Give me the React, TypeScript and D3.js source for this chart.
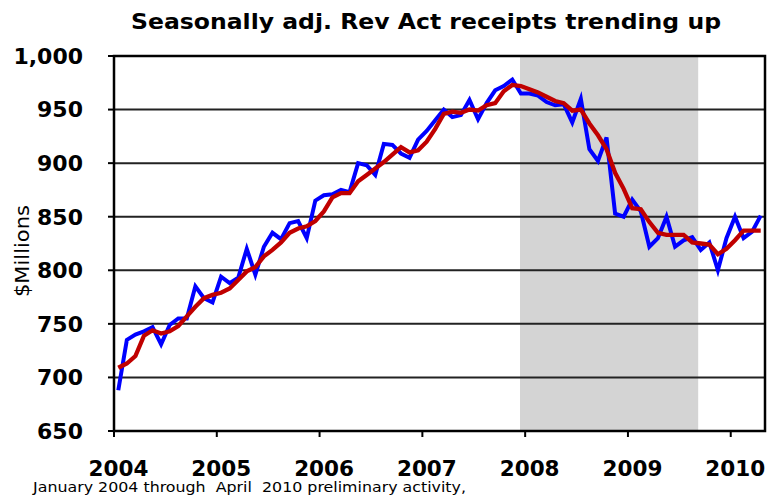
import * as d3 from 'd3';

// monthly, Jan 2004 .. Apr 2010
const startYear = 2004;
const receipts = [
    688, 735, 740, 743, 747, 731, 749, 755, 755, 785, 774, 770,
    794, 788, 793, 820, 796, 822, 835, 829, 844, 846, 830, 865,
    870, 871, 875, 873, 900, 898, 889, 918, 917, 909, 905, 922,
    930, 940, 950, 943, 945, 959, 941, 956, 968, 972, 978, 965,
    965, 963, 957, 954, 955, 938, 960, 913, 902, 924, 853, 850,
    866, 855, 822, 830, 850, 822, 828, 831, 819, 826, 800, 830,
    850, 830, 836, 851,
];
const trend = [
    709, 713, 720, 739, 744, 741, 743, 748, 757, 766, 774, 777,
    779, 783, 791, 799, 803, 813, 819, 826, 835, 839, 841, 846,
    855, 868, 872, 872, 883, 889, 895, 901, 908, 915, 910, 912,
    920, 932, 946, 948, 947, 950, 949, 954, 956, 967, 973, 972,
    969, 966, 962, 958, 956, 949, 950, 937, 926, 913, 891, 876,
    858, 857, 845, 835, 833, 833, 833, 826, 825, 824, 815, 820,
    828, 837, 837, 837,
];
const yTicks = [650, 700, 750, 800, 850, 900, 950, 1000];
const yearLabels = ['2004', '2005', '2006', '2007', '2008', '2009', '2010'];
// shaded band, in months from Jan 2004
const recession: [number, number] = [47.4, 68.2];

const title = 'Seasonally adj. Rev Act receipts trending up';
const yTitle = '$Millions';
const note = 'January 2004 through  April  2010 preliminary activity,';

const width = 781;
const height = 495;
const margin = { left: 114, right: 16, top: 56, bottom: 64 };

export default function App() {
    const x = d3
        .scaleLinear()
        .domain([0, receipts.length])
        .range([margin.left, width - margin.right]);
    const y = d3
        .scaleLinear()
        .domain([650, 1000])
        .range([height - margin.bottom, margin.top]);

    const line = d3
        .line<number>()
        .x((_, i) => x(i + 0.5))
        .y((d) => y(d));

    const x0 = x.range()[0];
    const x1 = x.range()[1];
    const yBottom = y.range()[0];
    const yTop = y.range()[1];
    const font = '"DejaVu Sans", Verdana, sans-serif';

    return (
        <svg
            width={width}
            height={height}
            style={{ position: 'absolute', left: 0, top: 0, background: '#fff' }}
        >
            <text
                x={426}
                y={28.5}
                textAnchor="middle"
                fontFamily={font}
                fontWeight="bold"
                fontSize={21}
                textLength={590}
                lengthAdjust="spacingAndGlyphs"
            >
                {title}
            </text>

            <rect
                x={x(recession[0])}
                y={yTop}
                width={x(recession[1]) - x(recession[0])}
                height={yBottom - yTop}
                fill="#d4d4d4"
            />

            {yTicks.slice(1, -1).map((t) => (
                <line key={t} x1={x0} x2={x1} y1={y(t)} y2={y(t)} stroke="#222" strokeWidth={2} />
            ))}

            <rect
                x={x0}
                y={yTop}
                width={x1 - x0}
                height={yBottom - yTop}
                fill="none"
                stroke="#000"
                strokeWidth={2.5}
            />

            {yTicks.map((t) => (
                <g key={t}>
                    <line x1={x0 - 6} x2={x0} y1={y(t)} y2={y(t)} stroke="#000" strokeWidth={2} />
                    <text
                        x={83}
                        y={y(t)}
                        dy="0.36em"
                        textAnchor="end"
                        fontFamily={font}
                        fontWeight="bold"
                        fontSize={22}
                    >
                        {d3.format(',')(t)}
                    </text>
                </g>
            ))}

            {yearLabels.map((label, k) => (
                <g key={label}>
                    <line
                        x1={x(k * 12)}
                        x2={x(k * 12)}
                        y1={yBottom}
                        y2={yBottom + 6}
                        stroke="#000"
                        strokeWidth={2}
                    />
                    <text
                        x={x(k * 12) + 4.5}
                        y={476}
                        textAnchor="middle"
                        fontFamily={font}
                        fontWeight="bold"
                        fontSize={21.5}
                    >
                        {label}
                    </text>
                </g>
            ))}

            <text
                transform={`translate(29,251) rotate(-90)`}
                textAnchor="middle"
                fontFamily={font}
                fontSize={19}
                textLength={92}
                lengthAdjust="spacingAndGlyphs"
            >
                {yTitle}
            </text>

            <path d={line(receipts) ?? ''} fill="none" stroke="#0000ff" strokeWidth={4} />
            <path d={line(trend) ?? ''} fill="none" stroke="#c00000" strokeWidth={4.3} />

            <text
                x={33}
                y={492}
                fontFamily={font}
                fontSize={14.5}
                textLength={433}
                lengthAdjust="spacingAndGlyphs"
                style={{ whiteSpace: 'pre' }}
                data-start={startYear}
            >
                {note}
            </text>
        </svg>
    );
}
